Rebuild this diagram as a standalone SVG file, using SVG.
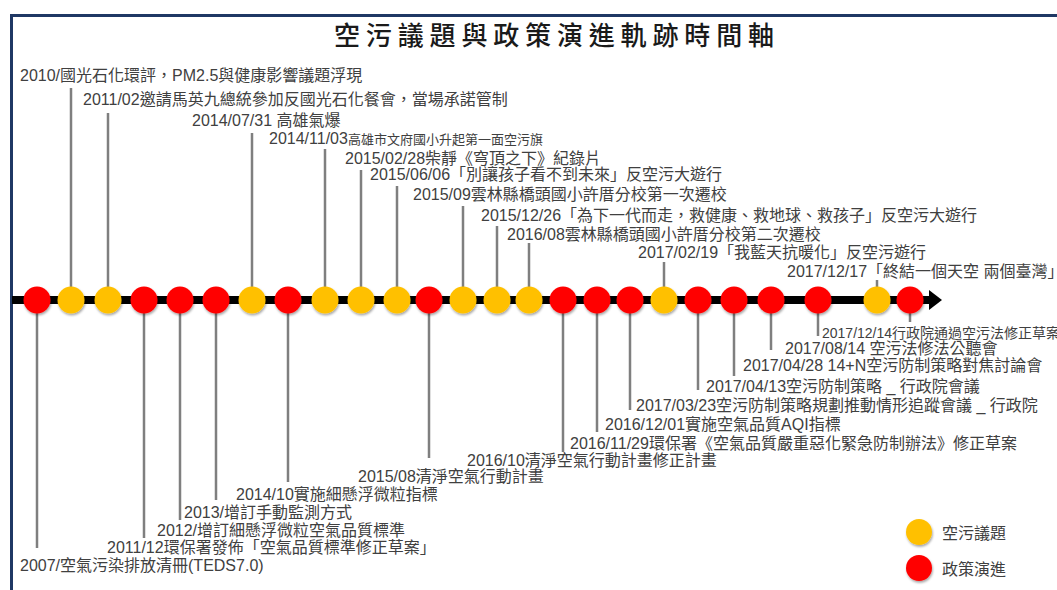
<svg xmlns="http://www.w3.org/2000/svg" width="1057" height="590" viewBox="0 0 1057 590">
<defs>
<style>
.lbl{font-family:"Liberation Sans","Noto Sans CJK TC",sans-serif;font-size:16px;fill:#404040;}
.sm{font-size:13px;}
.ttl{font-family:"Noto Sans CJK TC",sans-serif;font-size:26px;font-weight:500;fill:#1a1a1a;}
.leg{font-family:"Noto Sans CJK TC",sans-serif;font-size:16px;fill:#404040;}
.conn line{stroke:#7f7f7f;stroke-width:2.5;}
.y{fill:#FFC000;filter:url(#sh);}
.r{fill:#FF0000;filter:url(#sh);}
</style>
<filter id="sh" x="-30%" y="-30%" width="160%" height="170%">
<feDropShadow dx="0.8" dy="1.8" stdDeviation="1.2" flood-color="#000" flood-opacity="0.35"/>
</filter>
</defs>
<rect width="1057" height="590" fill="#ffffff"/>
<rect id="frame" x="11.5" y="15.5" width="1100" height="620" fill="none" stroke="#1F3864" stroke-width="3"/>
<text id="title" class="ttl" x="334" y="45" textLength="440" lengthAdjust="spacing">空污議題與政策演進軌跡時間軸</text>

<g id="axis">
<rect x="12" y="296" width="918" height="8" fill="#000"/>
<polygon points="929,290 942,300 929,310" fill="#000"/>
</g>

<g id="connectors" class="conn">
<line x1="71" y1="88" x2="71" y2="288"/>
<line x1="108" y1="113" x2="108" y2="288"/>
<line x1="252" y1="133" x2="252" y2="288"/>
<line x1="325" y1="149" x2="325" y2="288"/>
<line x1="361" y1="170" x2="361" y2="288"/>
<line x1="397" y1="186" x2="397" y2="288"/>
<line x1="463" y1="206" x2="463" y2="288"/>
<line x1="497" y1="226" x2="497" y2="288"/>
<line x1="529" y1="243" x2="529" y2="288"/>
<line x1="664" y1="262" x2="664" y2="288"/>
<line x1="877" y1="280" x2="877" y2="288"/>
<line x1="37" y1="312" x2="37" y2="548"/>
<line x1="144" y1="312" x2="144" y2="538"/>
<line x1="180" y1="312" x2="180" y2="520"/>
<line x1="216" y1="312" x2="216" y2="500"/>
<line x1="288" y1="312" x2="288" y2="482"/>
<line x1="429" y1="312" x2="429" y2="458"/>
<line x1="563" y1="312" x2="563" y2="452"/>
<line x1="597" y1="312" x2="597" y2="432"/>
<line x1="630" y1="312" x2="630" y2="410"/>
<line x1="698" y1="312" x2="698" y2="390"/>
<line x1="734" y1="312" x2="734" y2="376"/>
<line x1="771" y1="312" x2="771" y2="350"/>
<line x1="818" y1="312" x2="818" y2="336"/>
<line x1="910" y1="312" x2="910" y2="322"/>
</g>

<g id="n2007"><circle class="r" cx="37" cy="300" r="13.5"/><text class="lbl" x="20" y="571">2007/空氣污染排放清冊(TEDS7.0)</text></g>
<g id="n2010"><circle class="y" cx="71" cy="300" r="13.5"/><text class="lbl" x="20" y="81">2010/國光石化環評，PM2.5與健康影響議題浮現</text></g>
<g id="n2011-02"><circle class="y" cx="108" cy="300" r="13.5"/><text class="lbl" x="83" y="105">2011/02邀請馬英九總統參加反國光石化餐會，當場承諾管制</text></g>
<g id="n2011-12"><circle class="r" cx="144" cy="300" r="13.5"/><text class="lbl" x="107" y="553">2011/12環保署發佈「空氣品質標準修正草案」</text></g>
<g id="n2012"><circle class="r" cx="180" cy="300" r="13.5"/><text class="lbl" x="157" y="536">2012/增訂細懸浮微粒空氣品質標準</text></g>
<g id="n2013"><circle class="r" cx="216" cy="300" r="13.5"/><text class="lbl" x="184" y="518">2013/增訂手動監測方式</text></g>
<g id="n2014-07"><circle class="y" cx="252" cy="300" r="13.5"/><text class="lbl" x="192" y="126">2014/07/31 高雄氣爆</text></g>
<g id="n2014-10"><circle class="r" cx="288" cy="300" r="13.5"/><text class="lbl" x="236" y="500">2014/10實施細懸浮微粒指標</text></g>
<g id="n2014-11"><circle class="y" cx="325" cy="300" r="13.5"/><text class="lbl" x="269" y="144">2014/11/03<tspan class="sm">高雄市文府國小升起第一面空污旗</tspan></text></g>
<g id="n2015-02"><circle class="y" cx="361" cy="300" r="13.5"/><text class="lbl" x="345" y="164">2015/02/28柴靜《穹頂之下》紀錄片</text></g>
<g id="n2015-06"><circle class="y" cx="397" cy="300" r="13.5"/><text class="lbl" x="370" y="180">2015/06/06「別讓孩子看不到未來」反空污大遊行</text></g>
<g id="n2015-08"><circle class="r" cx="429" cy="300" r="13.5"/><text class="lbl" x="358" y="482">2015/08清淨空氣行動計畫</text></g>
<g id="n2015-09"><circle class="y" cx="463" cy="300" r="13.5"/><text class="lbl" x="413" y="200">2015/09雲林縣橋頭國小許厝分校第一次遷校</text></g>
<g id="n2015-12"><circle class="y" cx="497" cy="300" r="13.5"/><text class="lbl" x="481" y="221">2015/12/26「為下一代而走，救健康、救地球、救孩子」反空污大遊行</text></g>
<g id="n2016-08"><circle class="y" cx="529" cy="300" r="13.5"/><text class="lbl" x="507" y="240">2016/08雲林縣橋頭國小許厝分校第二次遷校</text></g>
<g id="n2016-10"><circle class="r" cx="563" cy="300" r="13.5"/><text class="lbl" x="467" y="466">2016/10清淨空氣行動計畫修正計畫</text></g>
<g id="n2016-11"><circle class="r" cx="597" cy="300" r="13.5"/><text class="lbl" x="570" y="449">2016/11/29環保署《空氣品質嚴重惡化緊急防制辦法》修正草案</text></g>
<g id="n2016-12"><circle class="r" cx="630" cy="300" r="13.5"/><text class="lbl" x="605" y="430">2016/12/01實施空氣品質AQI指標</text></g>
<g id="n2017-02"><circle class="y" cx="664" cy="300" r="13.5"/><text class="lbl" x="638" y="258">2017/02/19「我藍天抗暖化」反空污遊行</text></g>
<g id="n2017-03"><circle class="r" cx="698" cy="300" r="13.5"/><text class="lbl" x="636" y="411">2017/03/23空污防制策略規劃推動情形追蹤會議 _ 行政院</text></g>
<g id="n2017-04-13"><circle class="r" cx="734" cy="300" r="13.5"/><text class="lbl" x="706" y="392">2017/04/13空污防制策略 _ 行政院會議</text></g>
<g id="n2017-04-28"><circle class="r" cx="771" cy="300" r="13.5"/><text class="lbl" x="743" y="371">2017/04/28 14+N空污防制策略對焦討論會</text></g>
<g id="n2017-08"><circle class="r" cx="818" cy="300" r="13.5"/><text class="lbl" x="785" y="354">2017/08/14 空污法修法公聽會</text></g>
<g id="n2017-12-17"><circle class="y" cx="877" cy="300" r="13.5"/><text class="lbl" x="787" y="277">2017/12/17「終結一個天空 兩個臺灣」</text></g>
<g id="n2017-12-14"><circle class="r" cx="910" cy="300" r="13.5"/><text class="lbl" x="822" y="338" style="font-size:14px">2017/12/14行政院通過空污法修正草案</text></g>

<g id="legend">
<circle class="y" cx="919" cy="532" r="13"/>
<text class="leg" x="942" y="539">空污議題</text>
<circle class="r" cx="919" cy="568" r="13"/>
<text class="leg" x="942" y="575">政策演進</text>
</g>
</svg>
